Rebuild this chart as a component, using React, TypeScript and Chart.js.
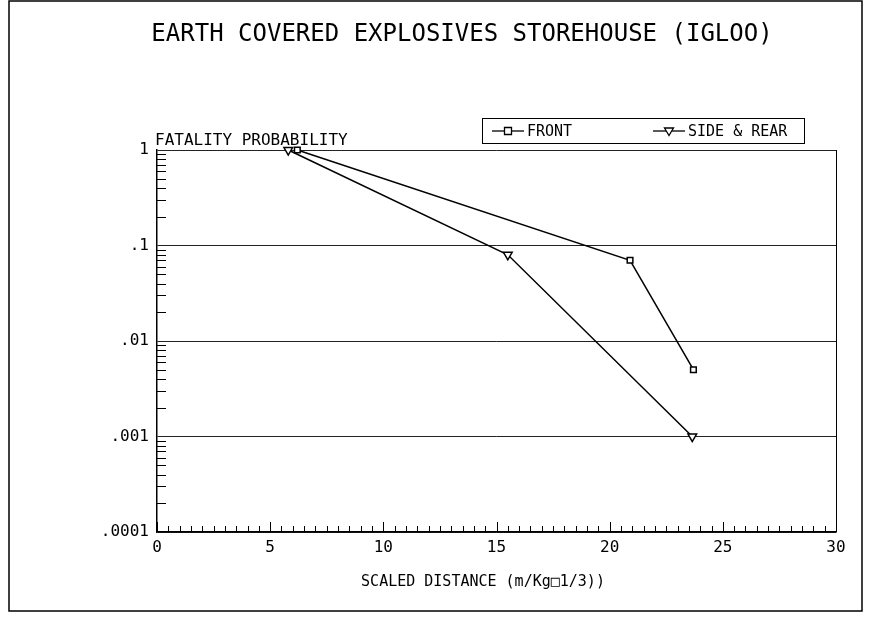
import React, { useEffect, useRef } from "react";
import { Chart, registerables } from "chart.js";

Chart.register(...registerables);

const chartTitle = "EARTH COVERED EXPLOSIVES STOREHOUSE (IGLOO)";
const yAxisTitle = "FATALITY PROBABILITY";
const xAxisTitle = "SCALED DISTANCE (m/Kg\u25A11/3))";

const seriesNames = ["FRONT", "SIDE & REAR"];
const frontX = [6.2, 20.9, 23.7];
const frontY = [1, 0.07, 0.005];
const sideX = [5.8, 15.5, 23.65];
const sideY = [1, 0.08, 0.001];

const yTickValues = [1, 0.1, 0.01, 0.001, 0.0001];
const yTickLabels = ["1", ".1", ".01", ".001", ".0001"];
const xTickStep = 5;
const xMinorStep = 0.5;

const FONT = "'DejaVu Sans Mono', monospace";

const decoPlugin = {
  id: "deco",
  afterDraw(chart: any) {
    const ctx = chart.ctx as CanvasRenderingContext2D;
    const area = chart.chartArea;
    const xs = chart.scales.x;
    const ys = chart.scales.y;
    ctx.save();
    ctx.strokeStyle = "#000";
    ctx.fillStyle = "#000";
    ctx.lineWidth = 1;

    // right border
    ctx.beginPath();
    ctx.moveTo(area.right + 0.5, area.top);
    ctx.lineTo(area.right + 0.5, area.bottom);
    ctx.stroke();

    // y minor ticks (log)
    ctx.beginPath();
    for (let d = -4; d < 0; d++) {
      for (let m = 2; m <= 9; m++) {
        const v = m * Math.pow(10, d);
        const py = Math.round(ys.getPixelForValue(v)) + 0.5;
        ctx.moveTo(area.left, py);
        ctx.lineTo(area.left + 9, py);
      }
    }
    ctx.stroke();

    // x minor ticks
    ctx.beginPath();
    for (let v = 0; v <= 30 + 1e-9; v += xMinorStep) {
      const px = Math.round(xs.getPixelForValue(v)) + 0.5;
      const major = Math.abs(v / xTickStep - Math.round(v / xTickStep)) < 1e-6;
      ctx.moveTo(px, area.bottom);
      ctx.lineTo(px, area.bottom - (major ? 10 : 6));
    }
    ctx.stroke();

    // titles
    ctx.textBaseline = "alphabetic";
    ctx.font = `24px ${FONT}`;
    ctx.textAlign = "center";
    ctx.fillText(chartTitle, 462, 41);
    ctx.font = `16px ${FONT}`;
    ctx.textAlign = "left";
    ctx.fillText(yAxisTitle, area.left - 2, area.top - 5);
    ctx.font = `15px ${FONT}`;
    ctx.textAlign = "center";
    ctx.fillText(xAxisTitle, 483, 586);

    // legend
    const lx0 = 482, ly0 = 118, lx1 = 804, ly1 = 143;
    ctx.strokeRect(lx0 + 0.5, ly0 + 0.5, lx1 - lx0, ly1 - ly0);
    const cy = (ly0 + ly1) / 2 + 0.5;
    const entries = [
      { x: 492, ds: 0 },
      { x: 653, ds: 1 },
    ];
    ctx.font = `15px ${FONT}`;
    ctx.textAlign = "left";
    ctx.textBaseline = "middle";
    entries.forEach((e) => {
      ctx.beginPath();
      ctx.moveTo(e.x, cy);
      ctx.lineTo(e.x + 32, cy);
      ctx.lineWidth = 1.3;
      ctx.stroke();
      const mx = e.x + 16;
      ctx.lineWidth = 1.3;
      ctx.fillStyle = "#fff";
      ctx.beginPath();
      if (e.ds === 0) {
        ctx.rect(mx - 3.5, cy - 3.5, 7, 7);
      } else {
        ctx.moveTo(mx - 4.5, cy - 3);
        ctx.lineTo(mx + 4.5, cy - 3);
        ctx.lineTo(mx, cy + 4.5);
        ctx.closePath();
      }
      ctx.fill();
      ctx.stroke();
      ctx.fillStyle = "#000";
      ctx.fillText(chart.data.datasets[e.ds].label, e.x + 35, cy + 1);
    });

    // outer frame
    ctx.lineWidth = 1.5;
    ctx.strokeRect(9, 1, 853, 610);
    ctx.restore();
  },
};

export default function App() {
  const ref = useRef<HTMLCanvasElement | null>(null);
  useEffect(() => {
    if (!ref.current) return;
    const chart = new Chart(ref.current, {
      type: "line",
      data: {
        datasets: [
          {
            label: seriesNames[0],
            data: frontX.map((x, i) => ({ x, y: frontY[i] })),
            borderColor: "#000",
            backgroundColor: "#fff",
            borderWidth: 1.5,
            pointStyle: "rect",
            pointRadius: 4,
            pointBorderWidth: 1.5,
            pointBorderColor: "#000",
            pointBackgroundColor: "#fff",
            clip: false as any,
          },
          {
            label: seriesNames[1],
            data: sideX.map((x, i) => ({ x, y: sideY[i] })),
            borderColor: "#000",
            backgroundColor: "#fff",
            borderWidth: 1.5,
            pointStyle: "triangle",
            pointRotation: 180,
            pointRadius: 5,
            pointBorderWidth: 1.5,
            pointBorderColor: "#000",
            pointBackgroundColor: "#fff",
            clip: false as any,
          },
        ],
      },
      options: {
        animation: false,
        responsive: false,
        devicePixelRatio: 1,
        layout: { padding: { top: 150, right: 37, left: 0, bottom: 0 } },
        plugins: {
          legend: { display: false },
          title: { display: false },
          tooltip: { enabled: false },
        },
        scales: {
          x: {
            type: "linear",
            min: 0,
            max: 30,
            afterFit(scale: any) {
              scale.height = 94;
            },
            ticks: {
              stepSize: xTickStep,
              color: "#000",
              padding: 6,
              font: { family: FONT, size: 16 },
              maxRotation: 0,
            },
            grid: { display: false, drawTicks: false },
            border: { display: true, color: "#000", width: 1.5 },
          },
          y: {
            type: "logarithmic",
            min: 0.0001,
            max: 1,
            afterFit(scale: any) {
              scale.width = 157;
            },
            afterBuildTicks(scale: any) {
              scale.ticks = yTickValues.map((v) => ({ value: v, major: true }));
            },
            ticks: {
              color: "#000",
              padding: 8,
              font: { family: FONT, size: 16 },
              callback: (v: any) => {
                const i = yTickValues.findIndex((t) => Math.abs(t - Number(v)) < Number(v) * 1e-6);
                return i >= 0 ? yTickLabels[i] : "";
              },
            },
            grid: { color: "#222", lineWidth: 1, drawTicks: false },
            border: { display: true, color: "#000", width: 1.5 },
          },
        },
      },
      plugins: [decoPlugin],
    });
    return () => chart.destroy();
  }, []);
  return (
    <div style={{ position: "absolute", left: 0, top: 0, width: 873, height: 626, background: "#fff" }}>
      <canvas ref={ref} width={873} height={626} />
    </div>
  );
}
